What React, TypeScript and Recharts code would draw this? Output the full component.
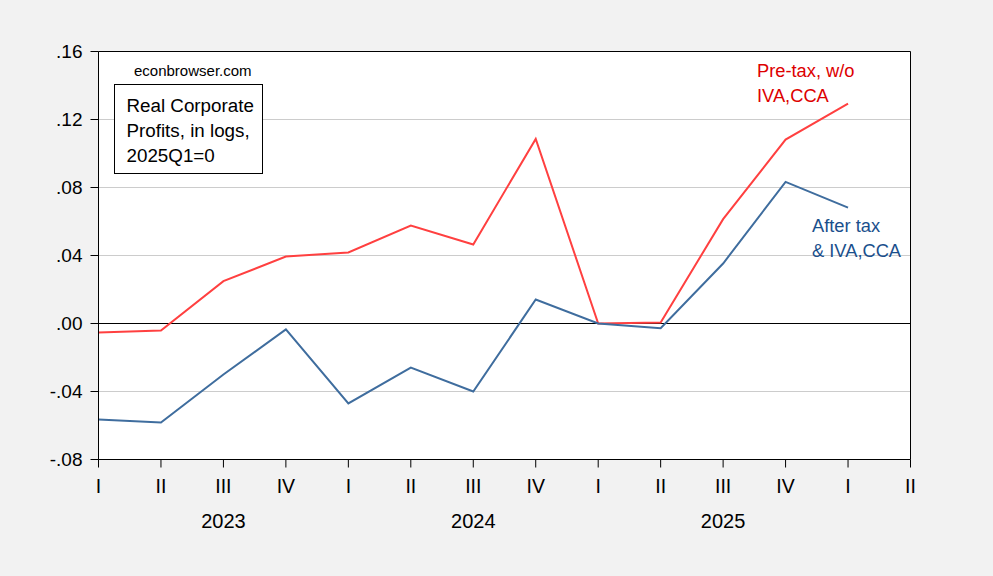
import React from "react";
import { LineChart, Line, XAxis, YAxis, CartesianGrid, ReferenceLine } from "recharts";

const quarterLabels = ["I", "II", "III", "IV", "I", "II", "III", "IV", "I", "II", "III", "IV", "I", "II"];
const yearLabels = ["2023", "2024", "2025"];
const yearTickIndex = [2, 6, 10];
const preTax = [-0.0053, -0.0041, 0.0249, 0.0394, 0.0418, 0.0576, 0.0465, 0.1086, 0.0, 0.0006, 0.0614, 0.1082, 0.1294];
const afterTax = [-0.0565, -0.0582, -0.030, -0.0035, -0.047, -0.0259, -0.040, 0.0141, 0.0, -0.0028, 0.0353, 0.0833, 0.0682];
const yTicks = [-0.08, -0.04, 0, 0.04, 0.08, 0.12, 0.16];
const yTickLabels = ["-.08", "-.04", ".00", ".04", ".08", ".12", ".16"];

const data = preTax.map((v, i) => ({ idx: i, preTax: v, afterTax: afterTax[i] }));
const xTicks = quarterLabels.map((_, i) => i);

const FONT = "'Liberation Sans', Arial, sans-serif";
const RED_LINE = "#ff4040";
const BLUE_LINE = "#3f6d9e";

const XTick = (props: any) => {
  const { x, y, payload } = props;
  const i = payload.value as number;
  const yi = yearTickIndex.indexOf(i);
  return (
    <g>
      <text x={x} y={y + 25} textAnchor="middle" fontFamily={FONT} fontSize={19.5} fill="#000">
        {quarterLabels[i]}
      </text>
      {yi >= 0 && (
        <text x={x} y={y + 60} textAnchor="middle" fontFamily={FONT} fontSize={20} fill="#000">
          {yearLabels[yi]}
        </text>
      )}
    </g>
  );
};

const YTick = (props: any) => {
  const { x, y, payload } = props;
  const k = yTicks.findIndex((t) => Math.abs(t - payload.value) < 1e-9);
  return (
    <text x={x} y={y + 6.5} textAnchor="end" fontFamily={FONT} fontSize={19} fill="#000">
      {k >= 0 ? yTickLabels[k] : ""}
    </text>
  );
};

export default function App() {
  return (
    <div style={{ position: "absolute", left: 0, top: 0, width: 993, height: 576, background: "#f2f2f2", overflow: "hidden" }}>
      <LineChart width={993} height={576} data={data} margin={{ top: 51.5, right: 82.5, left: 0, bottom: 0 }}>
        <CartesianGrid vertical={false} stroke="#cccccc" fill="#ffffff" />
        <XAxis
          dataKey="idx"
          type="number"
          domain={[0, 13]}
          ticks={xTicks}
          interval={0}
          height={116.5}
          tickSize={8}
          tickMargin={0}
          axisLine={{ stroke: "#000", strokeWidth: 1 }}
          tickLine={{ stroke: "#000", strokeWidth: 1 }}
          tick={<XTick />}
        />
        <YAxis
          type="number"
          domain={[-0.08, 0.16]}
          ticks={yTicks}
          interval={0}
          width={98.5}
          tickSize={8}
          tickMargin={8}
          allowDataOverflow
          axisLine={{ stroke: "#000", strokeWidth: 1 }}
          tickLine={{ stroke: "#000", strokeWidth: 1 }}
          tick={<YTick />}
        />
        <ReferenceLine y={0} stroke="#000" strokeWidth={1} />
        <ReferenceLine y={0.16} stroke="#000" strokeWidth={1} />
        <ReferenceLine x={13} stroke="#000" strokeWidth={1} />
        <Line type="linear" dataKey="preTax" stroke={RED_LINE} strokeWidth={2} dot={false} isAnimationActive={false} />
        <Line type="linear" dataKey="afterTax" stroke={BLUE_LINE} strokeWidth={2} dot={false} isAnimationActive={false} />
      </LineChart>
      <svg width={993} height={576} style={{ position: "absolute", left: 0, top: 0, pointerEvents: "none" }}>
        <text x={134} y={75.5} fontFamily={FONT} fontSize={15} fill="#000">econbrowser.com</text>
        <rect x={114.5} y={84.5} width={148} height={89} fill="#ffffff" stroke="#000" strokeWidth={1} />
        <text x={126.5} y={111.5} fontFamily={FONT} fontSize={18.8} fill="#000">Real Corporate</text>
        <text x={126.5} y={136.5} fontFamily={FONT} fontSize={18.8} fill="#000">Profits, in logs,</text>
        <text x={126.5} y={161.5} fontFamily={FONT} fontSize={18.8} fill="#000">2025Q1=0</text>
        <text x={757} y={76.7} fontFamily={FONT} fontSize={18.3} fill="#dd0000">Pre-tax, w/o</text>
        <text x={757} y={101.7} fontFamily={FONT} fontSize={18.3} fill="#dd0000">IVA,CCA</text>
        <text x={812} y={231.7} fontFamily={FONT} fontSize={18.3} fill="#1a4f8c">After tax</text>
        <text x={812} y={256.7} fontFamily={FONT} fontSize={18.3} fill="#1a4f8c">&amp; IVA,CCA</text>
      </svg>
    </div>
  );
}
